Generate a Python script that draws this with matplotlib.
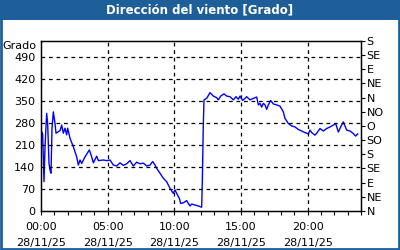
import matplotlib
matplotlib.use("Agg")
import matplotlib.pyplot as plt
from matplotlib.patches import Rectangle
from matplotlib.ticker import MultipleLocator

# wind direction readings, hours since 00:00 on 28/11/25
hours = [
    0.05, 0.125, 0.225, 0.3, 0.425, 0.5, 0.6, 0.675, 0.75, 0.825, 0.925,
    1.05, 1.125, 1.3, 1.425, 1.55, 1.675, 1.8, 1.925, 2.0, 2.175, 2.425,
    2.675, 2.8, 2.925, 3.05, 3.3, 3.625, 3.8, 3.925, 4.175, 4.3, 4.675,
    4.925, 5.175, 5.425, 5.675, 5.925, 6.175, 6.425, 6.675, 6.925, 7.175,
    7.425, 7.675, 7.925, 8.175, 8.375, 8.55, 8.725, 8.925,
    9.175, 9.425, 9.675, 9.925, 10.05, 10.175, 10.375, 10.475, 10.675,
    10.925, 11.05, 11.175, 11.3, 11.55, 11.8, 12.05, 12.1, 12.175, 12.225,
    12.425, 12.675, 12.925, 13.175, 13.3, 13.475, 13.725, 13.925, 14.175,
    14.425, 14.625, 14.8, 14.925, 15.125, 15.3, 15.425, 15.675, 15.925,
    16.175, 16.3, 16.425, 16.55, 16.675, 16.8, 16.925, 17.05, 17.225,
    17.425, 17.675, 17.925, 18.175, 18.3, 18.55, 18.8, 19.05, 19.3, 19.55,
    19.8, 20.05, 20.175, 20.3, 20.55, 20.675, 20.925, 21.175, 21.425,
    21.675, 21.925, 22.1, 22.3, 22.475, 22.675, 22.925, 23.175, 23.4,
    23.6, 23.75,
]
grados = [
    252, 245, 93, 204, 310, 278, 151, 130, 120, 263, 315,
    278, 247, 252, 255, 273, 247, 263, 242, 263, 231, 204,
    172, 146, 162, 151, 172, 194, 172, 153, 174, 160, 162,
    160, 162, 146, 143, 153, 145, 150, 160, 143, 155,
    150, 152, 143, 146, 157, 146, 132, 120,
    104, 93, 72, 56, 67, 56, 40, 24, 26,
    33, 24, 16, 22, 19, 16, 12, 98, 278, 353,
    358, 376, 365, 360, 353, 365, 372, 365, 363,
    353, 363, 355, 365, 351, 358, 363, 353, 358,
    362, 337, 342, 330, 342, 337, 323, 337, 351,
    340, 337, 333, 315, 294, 278, 270, 267, 259, 254,
    249, 245, 257, 249, 241, 247, 262, 254, 262,
    267, 273, 278, 251, 267, 283, 257, 254, 247,
    238, 245,
]

y_ticks = [0, 70, 140, 210, 280, 350, 420, 490]
x_ticks = [0, 5, 10, 15, 20]
x_labels = ["00:00\n28/11/25", "05:00\n28/11/25", "10:00\n28/11/25",
            "15:00\n28/11/25", "20:00\n28/11/25"]
rumbos = ["N", "NE", "E", "SE", "S", "SO", "O", "NO", "N", "NE", "E", "SE", "S"]
rumbo_pos = [45 * i for i in range(len(rumbos))]

azul = "#1f5f99"
fs = 8

fig = plt.figure(figsize=(4, 2.5), dpi=100)
fig.patches.append(Rectangle((0, 230 / 250), 1, 20 / 250, transform=fig.transFigure,
                             facecolor=azul, edgecolor="none", zorder=0))
fig.patches.append(Rectangle((0.0025, 0.004), 0.995, 0.992, transform=fig.transFigure,
                             facecolor="none", edgecolor=azul, linewidth=2, zorder=5))
fig.text(0.5, 240 / 250, "Dirección del viento [Grado]", color="white",
         fontsize=8.5, fontweight="bold", ha="center", va="center")

ax = fig.add_axes([41 / 400, 39 / 250, 320 / 400, 170 / 250])
ax.plot(hours, grados, color="#0000ff", linewidth=1)
ax.set_xlim(0, 24)
ax.set_ylim(0, 540)
ax.set_yticks(y_ticks)
ax.set_yticklabels([str(v) for v in y_ticks], fontsize=fs)
ax.set_xticks(x_ticks)
ax.set_xticklabels(x_labels, fontsize=fs, linespacing=1.75)
ax.xaxis.set_minor_locator(MultipleLocator(1))
ax.tick_params(axis="y", length=0, pad=4)
ax.tick_params(axis="x", which="both", length=3, direction="out", width=0.8, pad=5)

for v in y_ticks[1:]:
    ax.axhline(v, color="black", linestyle=(0, (3, 3)), linewidth=0.9)
for h in x_ticks[1:]:
    ax.axvline(h, color="black", linestyle=(0, (3, 3)), linewidth=0.9)
for s in ax.spines.values():
    s.set_linewidth(1)

ax2 = ax.twinx()
ax2.set_ylim(0, 540)
ax2.set_yticks(rumbo_pos)
ax2.set_yticklabels(rumbos, fontsize=fs)
ax2.tick_params(axis="y", length=3, width=0.8, pad=1)

fig.text(36 / 400, 1 - 46 / 250, "Grado", fontsize=fs, ha="right", va="center")

fig.savefig("out.png", dpi=100)
